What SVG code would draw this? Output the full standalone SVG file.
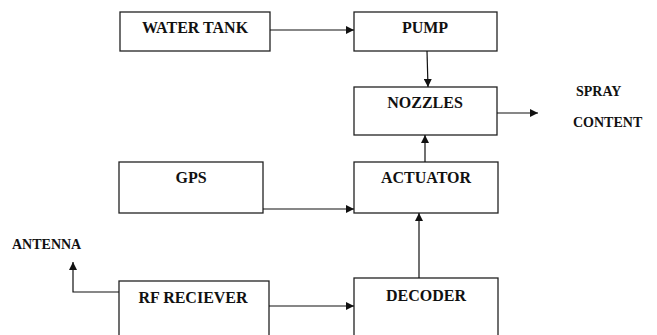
<svg xmlns="http://www.w3.org/2000/svg" width="657" height="335" viewBox="0 0 657 335">
<style>
.box{fill:#fff;stroke:#222;stroke-width:1.3}
text{font-family:'Liberation Serif',serif;font-weight:700;fill:#111}
.t{font-size:16px;text-anchor:middle}
.s{font-size:14px}
.c{fill:none;stroke:#111;stroke-width:1.2;marker-end:url(#ah)}
</style>
<defs>
<marker id="ah" viewBox="0 0 10 10" refX="10" refY="5" markerWidth="8" markerHeight="8" markerUnits="userSpaceOnUse" orient="auto">
<path d="M0,0 L10,5 L0,10 z" fill="#111"/>
</marker>
</defs>
<rect width="657" height="335" fill="#fff"/>
<g id="water-tank"><rect class="box" x="120" y="12" width="150" height="39"/><text class="t" x="195" y="33" font-family="Liberation Serif">WATER TANK</text></g>
<g id="pump"><rect class="box" x="354" y="12" width="143" height="39"/><text class="t" x="425" y="33" font-family="Liberation Serif">PUMP</text></g>
<g id="nozzles"><rect class="box" x="354" y="87" width="143" height="48"/><text class="t" x="425" y="108" font-family="Liberation Serif">NOZZLES</text></g>
<g id="gps"><rect class="box" x="119" y="162" width="144" height="51"/><text class="t" x="191" y="183" font-family="Liberation Serif">GPS</text></g>
<g id="actuator"><rect class="box" x="354" y="162" width="144" height="51"/><text class="t" x="426" y="183" font-family="Liberation Serif">ACTUATOR</text></g>
<g id="rf-reciever"><rect class="box" x="119" y="281" width="150" height="60"/><text class="t" x="193" y="303" font-family="Liberation Serif">RF RECIEVER</text></g>
<g id="decoder"><rect class="box" x="354" y="278" width="144" height="63"/><text class="t" x="426" y="301" font-family="Liberation Serif">DECODER</text></g>
<g id="antenna"><text class="s" x="12" y="249" font-family="Liberation Serif">ANTENNA</text></g>
<g id="spray-content"><text class="s" x="576" y="96" font-family="Liberation Serif">SPRAY</text><text class="s" x="573" y="127" font-family="Liberation Serif">CONTENT</text></g>
<g id="connectors">
<path class="c" d="M270,30 H354"/>
<path class="c" d="M427,51 L428,87"/>
<path class="c" d="M497,113 H538"/>
<path class="c" d="M425,162 V135"/>
<path class="c" d="M263,209 H354"/>
<path class="c" d="M419,278 V213"/>
<path class="c" d="M269,306 H354"/>
<path class="c" d="M119,292 H73 V262"/>
</g>
</svg>
